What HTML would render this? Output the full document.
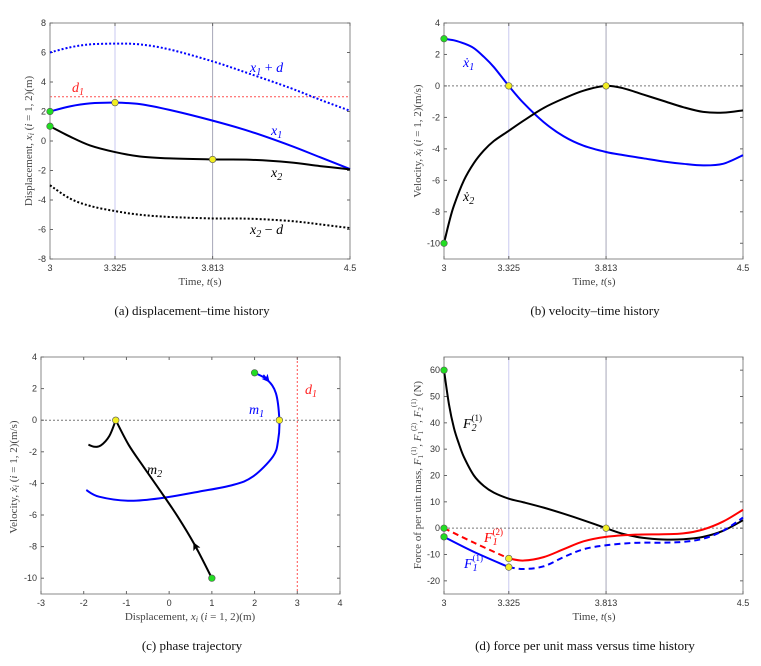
<!DOCTYPE html>
<html><head><meta charset="utf-8"><style>
html,body{margin:0;padding:0;background:#fff;}
svg{display:block;}
.tick{font-family:"Liberation Sans",sans-serif;font-size:9px;fill:#333;}
.ttl{font-family:"Liberation Serif",serif;font-size:11px;fill:#444;}
.cap{font-family:"Liberation Serif",serif;font-size:13px;fill:#111;}
.lbl{font-family:"Liberation Serif",serif;font-style:italic;font-size:14px;}
</style></head><body>
<svg id="fig" width="761" height="666" viewBox="0 0 761 666" xmlns="http://www.w3.org/2000/svg">
<defs>
<marker id="arrB" markerWidth="8" markerHeight="8" refX="6" refY="4" orient="auto" markerUnits="userSpaceOnUse"><path d="M0,0 L8,4 L0,8 L2,4 Z" fill="#0000ff"/></marker>
<marker id="arrK" markerWidth="8" markerHeight="8" refX="6" refY="4" orient="auto" markerUnits="userSpaceOnUse"><path d="M0,0 L8,4 L0,8 L2,4 Z" fill="#000"/></marker>
</defs>
</svg>
<script>
// ---------- Panel (a) data ----------
var tA = [3,3.1,3.2,3.325,3.45,3.6,3.813,4.0,4.2,4.35,4.5];
var x1 = [2,2.35,2.55,2.6,2.5,2.1,1.38,0.65,-0.3,-1.1,-1.9];
var x2 = [1,0.3,-0.3,-0.75,-1.05,-1.18,-1.25,-1.27,-1.45,-1.7,-1.92];
var x1pd = [6,6.35,6.55,6.6,6.55,6.2,5.4,4.55,3.6,2.8,2.05];
var x2md = [-3,-3.9,-4.4,-4.75,-5.0,-5.15,-5.25,-5.27,-5.42,-5.65,-5.9];
var d1 = 3;
var aYTicks = [-8,-6,-4,-2,0,2,4,6,8];
var tTicks = [3,3.325,3.813,4.5];
var tTickLabels = ["3","3.325","3.813","4.5"];
// ---------- Panel (b) data ----------
var tB = [3,3.025,3.05,3.1,3.15,3.2,3.25,3.325,3.4,3.5,3.6,3.7,3.813,3.9,4.0,4.1,4.2,4.3,4.4,4.5];
var x1dot = [3,2.95,2.9,2.7,2.4,1.85,1.2,0,-1.1,-2.3,-3.2,-3.8,-4.2,-4.4,-4.6,-4.8,-4.95,-5.05,-4.95,-4.4];
var x2dot = [-10,-8.7,-7.6,-6.0,-4.9,-4.1,-3.5,-2.85,-2.2,-1.4,-0.8,-0.3,0,-0.15,-0.55,-0.95,-1.35,-1.65,-1.7,-1.55];
var bYTicks = [-10,-8,-6,-4,-2,0,2,4];
// ---------- Panel (c) data ----------
var m1x = [2.0,2.3,2.5,2.58,2.55,2.43,1.96,1.49,0.7,-0.23,-0.94,-1.64,-1.94];
var m1v = [3.0,2.55,1.7,0,-1.3,-2.3,-3.57,-4.1,-4.52,-4.95,-5.1,-4.84,-4.42];
var m2x = [1.0,0.6,0.2,-0.2,-0.6,-0.95,-1.25];
var m2v = [-10,-7.9,-6.1,-4.5,-2.95,-1.55,0];
var m2tailx = [-1.25,-1.4,-1.6,-1.75,-1.89];
var m2tailv = [0,-1.0,-1.6,-1.68,-1.55];
var cXTicks = [-3,-2,-1,0,1,2,3,4];
var cYTicks = [-10,-8,-6,-4,-2,0,2,4];
// ---------- Panel (d) data ----------
var tD = [3,3.025,3.05,3.075,3.1,3.15,3.2,3.25,3.325,3.4,3.5,3.6,3.7,3.813,3.9,4.0,4.1,4.2,4.3,4.4,4.5];
var F2 = [60,47,38,32,27,20,16,13.5,11.2,9.8,7.8,5.5,3,0,-2.2,-3.7,-4.3,-4.2,-3.3,-1,3];
var tR1 = [3,3.15,3.325];
var F12a = [0,-5.5,-11.5];
var tR2 = [3.325,3.4,3.5,3.6,3.7,3.813,3.95,4.1,4.2,4.3,4.4,4.5];
var F12b = [-11.5,-12.3,-11,-8,-5,-3.3,-2.5,-2.3,-2,-0.5,2.5,7];
var tB1 = [3,3.15,3.325];
var F11a = [-3.3,-9,-14.8];
var tB2 = [3.325,3.4,3.5,3.6,3.7,3.813,3.95,4.1,4.2,4.3,4.4,4.5];
var F11b = [-14.8,-15.5,-14.5,-11,-8,-6.5,-5.6,-5.5,-5.2,-4,-1,4];
var dYTicks = [-20,-10,0,10,20,30,40,50,60];

var NS="http://www.w3.org/2000/svg";
var fig=document.getElementById('fig');
function mk(tag,attrs,parent){var e=document.createElementNS(NS,tag);for(var k in attrs)e.setAttribute(k,attrs[k]);(parent||fig).appendChild(e);return e;}
function scale(d0,d1,r0,r1){return function(v){return r0+(v-d0)*(r1-r0)/(d1-d0);};}
function smooth(pts){
  if(pts.length<3){return "M"+pts.map(function(p){return p[0].toFixed(2)+","+p[1].toFixed(2);}).join(" L");}
  var d="M"+pts[0][0].toFixed(2)+","+pts[0][1].toFixed(2);
  for(var i=0;i<pts.length-1;i++){
    var p0=pts[i-1]||pts[i],p1=pts[i],p2=pts[i+1],p3=pts[i+2]||p2;
    var c1=[p1[0]+(p2[0]-p0[0])/6,p1[1]+(p2[1]-p0[1])/6];
    var c2=[p2[0]-(p3[0]-p1[0])/6,p2[1]-(p3[1]-p1[1])/6];
    d+=" C"+c1[0].toFixed(2)+","+c1[1].toFixed(2)+" "+c2[0].toFixed(2)+","+c2[1].toFixed(2)+" "+p2[0].toFixed(2)+","+p2[1].toFixed(2);
  }
  return d;
}
function axes(g,L,R,T,B,sx,sy,xt,xl,yt,name){
  var r=mk('rect',{x:L,y:T,width:R-L,height:B-T,fill:'none',stroke:'#8a8a8a','stroke-width':1},g);
  
  
  xt.forEach(function(v,i){
    var x=sx(v);
    mk('line',{x1:x,y1:B,x2:x,y2:B-3,stroke:'#666'},g);
    mk('line',{x1:x,y1:T,x2:x,y2:T+3,stroke:'#666'},g);
    var t=mk('text',{x:x,y:B+12,'text-anchor':'middle','class':'tick'},g);t.textContent=xl[i];
    
    
  });
  yt.forEach(function(v){
    var y=sy(v);
    mk('line',{x1:L,y1:y,x2:L+3,y2:y,stroke:'#666'},g);
    mk('line',{x1:R,y1:y,x2:R-3,y2:y,stroke:'#666'},g);
    var t=mk('text',{x:L-4,y:y+3,'text-anchor':'end','class':'tick'},g);t.textContent=String(v);
    
    
  });
}
function vline(g,x,T,B,col,dash){var l=mk('line',{x1:x,y1:T,x2:x,y2:B,stroke:col,'stroke-width':1},g);if(dash)l.setAttribute('stroke-dasharray',dash);return l;}
function hline(g,y,L,R,col,dash){var l=mk('line',{x1:L,y1:y,x2:R,y2:y,stroke:col,'stroke-width':1},g);if(dash)l.setAttribute('stroke-dasharray',dash);return l;}
function series(g,xs,ys,sx,sy,col,w,dash,name){
  var pts=xs.map(function(v,i){return [sx(v),sy(ys[i])];});
  var p=mk('path',{d:smooth(pts),fill:'none',stroke:col,'stroke-width':w,'stroke-linejoin':'round'},g);
  if(dash)p.setAttribute('stroke-dasharray',dash);
  
  
  return p;
}
function dot(g,x,y,col,name){var c=mk('circle',{cx:x,cy:y,r:3.3,fill:col,stroke:'#555','stroke-width':0.6},g);
  
  }
function text(g,x,y,str,cls,extra){var t=mk('text',Object.assign({x:x,y:y,'class':cls},extra||{}),g);t.innerHTML=str;return t;}
var G='#22dd22',Y='#f2ee22',BL='#0000ff';

// ===== Panel a =====
(function(){
  var g=mk('g',{});
  
  
  var L=50,R=350,T=23,B=259;
  var sx=scale(3,4.5,L,R), sy=scale(-8,8,B,T);
  vline(g,sx(3.325),T,B,'#c8c8f0');
  vline(g,sx(3.813),T,B,'#a8a8b8');
  hline(g,sy(d1),L,R,'#ff5050','2,2');
  axes(g,L,R,T,B,sx,sy,tTicks,tTickLabels,aYTicks,'panel-a');
  series(g,tA,x1pd,sx,sy,BL,2,'2,2','x1-plus-d-line');
  series(g,tA,x2md,sx,sy,'#000',2,'2,2','x2-minus-d-line');
  series(g,tA,x1,sx,sy,BL,2,null,'x1-line');
  series(g,tA,x2,sx,sy,'#000',2,null,'x2-line');
  dot(g,sx(3),sy(x1[0]),G,'x1-start-marker');dot(g,sx(3),sy(x2[0]),G,'x2-start-marker');
  dot(g,sx(3.325),sy(x1[3]),Y,'x1-max-marker');dot(g,sx(3.813),sy(x2[6]),Y,'x2-marker');
  text(g,250,72,'x<tspan font-size="10" dy="3">1</tspan><tspan dy="-3" font-style="normal"> + </tspan>d','lbl',{fill:BL});
  text(g,72,92,'d<tspan font-size="10" dy="3">1</tspan>','lbl',{fill:'#ff2020'});
  text(g,271,135,'x<tspan font-size="10" dy="3">1</tspan>','lbl',{fill:BL});
  text(g,271,177,'x<tspan font-size="10" dy="3">2</tspan>','lbl',{fill:'#000'});
  text(g,250,234,'x<tspan font-size="10" dy="3">2</tspan><tspan dy="-3" font-style="normal"> − </tspan>d','lbl',{fill:'#000'});
  text(g,200,285,'Time, <tspan font-style="italic">t</tspan>(s)','ttl',{'text-anchor':'middle'});
  text(g,0,0,'Displacement, <tspan font-style="italic">x<tspan font-size="8" dy="2">i</tspan></tspan><tspan dy="-2"> (</tspan><tspan font-style="italic">i</tspan> = 1, 2)(m)','ttl',{'text-anchor':'middle',transform:'translate(32,141) rotate(-90)'});
  text(g,192,315,'(a)  displacement–time history','cap',{'text-anchor':'middle'});
})();

// ===== Panel b =====
(function(){
  var g=mk('g',{});
  
  
  var L=444,R=743,T=23,B=259;
  var sx=scale(3,4.5,L,R), sy=scale(-11,4,B,T);
  vline(g,sx(3.325),T,B,'#c8c8f0');
  vline(g,sx(3.813),T,B,'#a8a8b8');
  hline(g,sy(0),L,R,'#777','2,2');
  axes(g,L,R,T,B,sx,sy,tTicks,tTickLabels,bYTicks,'panel-b');
  series(g,tB,x1dot,sx,sy,BL,2,null,'x1dot-line');
  series(g,tB,x2dot,sx,sy,'#000',2,null,'x2dot-line');
  dot(g,sx(3),sy(x1dot[0]),G,'x1dot-start-marker');dot(g,sx(3),sy(x2dot[0]),G,'x2dot-start-marker');
  dot(g,sx(3.325),sy(x1dot[7]),Y,'x1dot-zero-marker');dot(g,sx(3.813),sy(x2dot[12]),Y,'x2dot-zero-marker');
  text(g,463,67,'ẋ<tspan font-size="10" dy="3">1</tspan>','lbl',{fill:BL});
  text(g,463,201,'ẋ<tspan font-size="10" dy="3">2</tspan>','lbl',{fill:'#000'});
  text(g,594,285,'Time, <tspan font-style="italic">t</tspan>(s)','ttl',{'text-anchor':'middle'});
  text(g,0,0,'Velocity, <tspan font-style="italic">ẋ<tspan font-size="8" dy="2">i</tspan></tspan><tspan dy="-2"> (</tspan><tspan font-style="italic">i</tspan> = 1, 2)(m/s)','ttl',{'text-anchor':'middle',transform:'translate(421,141) rotate(-90)'});
  text(g,595,315,'(b)  velocity–time history','cap',{'text-anchor':'middle'});
})();

// ===== Panel c =====
(function(){
  var g=mk('g',{});
  
  
  var L=41,R=340,T=357,B=594;
  var sx=scale(-3,4,L,R), sy=scale(-11,4,B,T);
  hline(g,sy(0),L,R,'#777','2,2');
  vline(g,sx(d1),T,B,'#ff5050','2,2');
  axes(g,L,R,T,B,sx,sy,cXTicks,cXTicks.map(String),cYTicks,'panel-c');
  series(g,m1x,m1v,sx,sy,BL,2,null,'m1-trajectory');
  series(g,m2x,m2v,sx,sy,'#000',2,null,'m2-trajectory');
  series(g,m2tailx,m2tailv,sx,sy,'#000',2,null,'m2-trajectory-tail');
  var a1=mk('line',{x1:sx(m1x[1])-4,y1:sy(m1v[1])-5,x2:sx(m1x[1])+1,y2:sy(m1v[1])+1,stroke:BL,'stroke-width':1.5,'marker-end':'url(#arrB)'},g);
  
  
  var a2=mk('line',{x1:sx(m2x[1])+3,y1:sy(m2v[1])+6,x2:sx(m2x[1])-0.5,y2:sy(m2v[1])-1,stroke:'#000','stroke-width':1.5,'marker-end':'url(#arrK)'},g);
  
  
  dot(g,sx(m1x[0]),sy(m1v[0]),G,'m1-start-marker');dot(g,sx(m2x[0]),sy(m2v[0]),G,'m2-start-marker');
  dot(g,sx(m1x[3]),sy(m1v[3]),Y,'m1-zero-marker');dot(g,sx(m2x[6]),sy(m2v[6]),Y,'m2-zero-marker');
  text(g,249,414,'m<tspan font-size="10" dy="3">1</tspan>','lbl',{fill:BL});
  text(g,147,474,'m<tspan font-size="10" dy="3">2</tspan>','lbl',{fill:'#000'});
  text(g,305,394,'d<tspan font-size="10" dy="3">1</tspan>','lbl',{fill:'#ff2020'});
  text(g,190,620,'Displacement, <tspan font-style="italic">x<tspan font-size="8" dy="2">i</tspan></tspan><tspan dy="-2"> (</tspan><tspan font-style="italic">i</tspan> = 1, 2)(m)','ttl',{'text-anchor':'middle'});
  text(g,0,0,'Velocity, <tspan font-style="italic">ẋ<tspan font-size="8" dy="2">i</tspan></tspan><tspan dy="-2"> (</tspan><tspan font-style="italic">i</tspan> = 1, 2)(m/s)','ttl',{'text-anchor':'middle',transform:'translate(17,477) rotate(-90)'});
  text(g,192,650,'(c)  phase trajectory','cap',{'text-anchor':'middle'});
})();

// ===== Panel d =====
(function(){
  var g=mk('g',{});
  
  
  var L=444,R=743,T=357,B=594;
  var sx=scale(3,4.5,L,R), sy=scale(-25,65,B,T);
  vline(g,sx(3.325),T,B,'#c8c8f0');
  vline(g,sx(3.813),T,B,'#a8a8b8');
  hline(g,sy(0),L,R,'#777','2,2');
  axes(g,L,R,T,B,sx,sy,tTicks,tTickLabels,dYTicks,'panel-d');
  series(g,tD,F2,sx,sy,'#000',2,null,'F2-1-line');
  series(g,tR1,F12a,sx,sy,'#ff0000',2,'6,4','F1-2-dashed-line');
  series(g,tR2,F12b,sx,sy,'#ff0000',2,null,'F1-2-solid-line');
  series(g,tB1,F11a,sx,sy,BL,2,null,'F1-1-solid-line');
  series(g,tB2,F11b,sx,sy,BL,2,'6,4','F1-1-dashed-line');
  dot(g,sx(3),sy(F2[0]),G,'F2-start-marker');dot(g,sx(3),sy(F12a[0]),G,'F12-start-marker');dot(g,sx(3),sy(F11a[0]),G,'F11-start-marker');
  dot(g,sx(3.325),sy(F12b[0]),Y,'F12-switch-marker');dot(g,sx(3.325),sy(F11b[0]),Y,'F11-switch-marker');dot(g,sx(3.813),sy(F2[13]),Y,'F2-zero-marker');
  text(g,463,428,'F<tspan font-size="10" dy="3">2</tspan><tspan font-size="9" font-style="normal" dy="-10" dx="-5">(1)</tspan>','lbl',{fill:'#000'});
  text(g,484,542,'F<tspan font-size="10" dy="3">1</tspan><tspan font-size="9" font-style="normal" dy="-10" dx="-5">(2)</tspan>','lbl',{fill:'#ff0000'});
  text(g,464,568,'F<tspan font-size="10" dy="3">1</tspan><tspan font-size="9" font-style="normal" dy="-10" dx="-5">(1)</tspan>','lbl',{fill:BL});
  text(g,594,620,'Time, <tspan font-style="italic">t</tspan>(s)','ttl',{'text-anchor':'middle'});
  text(g,0,0,'Force of per unit mass, <tspan font-style="italic">F</tspan><tspan font-size="7" dy="2">1</tspan><tspan font-size="7" dy="-7">(1)</tspan><tspan dy="5">, </tspan><tspan font-style="italic">F</tspan><tspan font-size="7" dy="2">1</tspan><tspan font-size="7" dy="-7">(2)</tspan><tspan dy="5">, </tspan><tspan font-style="italic">F</tspan><tspan font-size="7" dy="2">2</tspan><tspan font-size="7" dy="-7">(1)</tspan><tspan dy="5"> (N)</tspan>','ttl',{'text-anchor':'middle',transform:'translate(421,475) rotate(-90)'});
  text(g,585,650,'(d)  force per unit mass versus time history','cap',{'text-anchor':'middle'});
})();
</script>
</body></html>
